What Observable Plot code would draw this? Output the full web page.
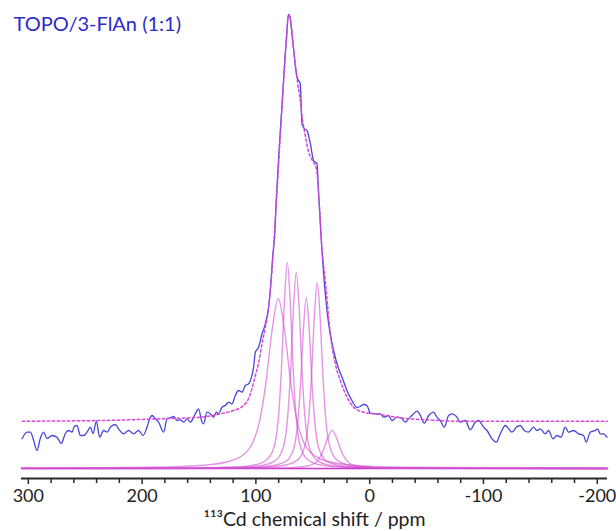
<!DOCTYPE html>
<html><head><meta charset="utf-8">
<script src="https://cdn.jsdelivr.net/npm/d3@7"></script>
<script src="https://cdn.jsdelivr.net/npm/@observablehq/plot@0.6"></script>
<style>body{margin:0;background:#fff}#chart svg{display:block}</style>
</head><body><div id="chart"></div>
<script>
const titleText = "TOPO/3-FlAn (1:1)";
const axisTitle = "¹¹³Cd chemical shift / ppm";
const minorTicks = [280,260,240,220,180,160,140,120,80,60,40,20,-20,-40,-60,-80,-120,-140,-160,-180];
const majorTicks = [300,200,100,0,-100,-200];

// experimental spectrum [ppm, intensity]
const experimental = [
[305.5,6.54],[301.1,8.0],[298.2,8.0],[295.3,6.17],[292.4,3.96],[289.5,6.61],[286.6,8.0],[283.6,6.61],[279.2,7.27],[274.8,6.89],[271.0,5.51],[267.5,7.71],[264.6,8.37],[261.6,8.0],[259.6,9.25],[257.2,9.47],[254.3,7.27],[251.4,7.27],[248.4,8.0],[245.5,9.10],[243.1,7.71],[240.2,10.42],[237.3,6.89],[233.8,8.37],[230.8,8.0],[227.9,9.10],[223.5,9.69],[220.7,8.74],[216.3,7.64],[211.9,8.37],[207.5,7.64],[203.1,8.37],[199.2,7.27],[195.7,9.10],[193.4,10.95],[191.3,11.67],[188.4,10.95],[185.5,10.20],[181.1,8.0],[178.1,10.95],[175.2,11.17],[172.3,11.45],[169.3,10.57],[166.4,10.73],[163.5,10.20],[160.5,10.95],[157.6,10.20],[153.3,12.05],[150.4,13.15],[147.4,10.20],[146.0,9.85],[143.0,12.40],[140.1,12.05],[137.2,11.30],[134.8,12.40],[132.8,12.05],[129.8,13.50],[126.9,13.88],[124.0,14.60],[121.0,14.25],[118.1,16.08],[115.2,17.18],[112.2,16.81],[109.3,18.28],[106.4,18.66],[104.9,19.38],[102.0,22.31],[100.5,25.62],[97.6,26.72],[94.6,29.67],[91.7,31.87],[88.8,35.53],[86.7,41.41],[85.0,47.29],[83.8,50.22],[82.1,59.03],[76.8,81.06],[73.3,94.27],[71.3,100.0],[69.8,99.1],[68.3,95.75],[66.3,90.97],[63.9,86.19],[61.0,84.74],[59.5,75.93],[57.5,74.89],[55.1,74.45],[52.2,71.59],[49.3,67.84],[46.3,67.11],[44.9,60.51],[42.5,50.22],[40.5,42.89],[36.1,31.87],[31.7,25.99],[27.3,21.96],[24.3,20.11],[20.0,17.18],[15.6,14.98],[11.2,13.44],[8.3,13.66],[5.4,14.10],[2.4,13.88],[-0.5,12.22],[-4.9,12.05],[-9.3,12.05],[-12.2,11.30],[-16.6,11.67],[-19.6,10.57],[-24.0,11.30],[-28.4,10.95],[-31.3,10.20],[-34.2,10.95],[-38.6,12.05],[-41.6,12.62],[-44.5,11.67],[-48.0,9.98],[-51.8,11.67],[-56.2,12.40],[-59.1,11.30],[-62.0,10.57],[-65.6,9.10],[-69.3,11.67],[-72.3,12.05],[-76.7,11.30],[-79.6,10.20],[-84.0,10.57],[-88.4,8.52],[-92.8,10.20],[-95.7,10.57],[-100.1,9.10],[-103.1,8.37],[-107.5,6.54],[-111.2,5.79],[-114.8,7.64],[-119.2,9.47],[-122.1,8.74],[-125.0,8.0],[-128.8,9.10],[-132.3,9.47],[-135.9,8.37],[-139.6,8.0],[-144.0,9.10],[-147.0,8.37],[-149.9,8.74],[-154.3,7.64],[-157.2,8.37],[-161.1,6.54],[-164.6,7.27],[-168.1,6.89],[-171.9,9.10],[-174.8,8.0],[-179.2,8.37],[-183.6,7.64],[-188.0,7.27],[-190.3,5.79],[-193.8,8.0],[-198.2,8.37],[-200.3,8.74],[-202.6,7.64],[-205.5,7.64],[-208.5,6.89]
];

// total fit (dashed) [ppm, intensity]
const fit = [
[305.3,10.42],[236.7,10.57],[184.0,10.95],[148.9,11.30],[131.3,12.05],[119.6,12.78],[110.8,13.88],[106.4,15.42],[103.4,17.62],[100.5,20.48],[97.6,23.35],[94.6,27.47],[91.7,31.12],[88.8,35.53],[86.7,40.97],[85.0,46.92],[82.1,58.37],[76.8,80.62],[73.3,94.27],[71.3,100.0],[69.8,99.1],[68.0,95.4],[66.3,90.97],[63.6,85.46],[61.0,81.06],[59.2,77.1],[56.6,73.35],[54.0,70.04],[50.4,67.84],[46.9,66.08],[44.7,60.13],[42.5,50.22],[39.0,41.41],[34.6,29.67],[30.2,23.06],[25.8,19.38],[19.9,15.70],[14.1,13.50],[5.4,12.40],[-9.3,11.89],[-26.9,11.17],[-53.3,10.68],[-77.0,10.42],[-208.8,10.42]
];

// fitted components [ppm, intensity]
const compA = [[306,0.06],[190.3,0.26],[146.3,0.71],[124.3,1.54],[113.3,2.64],[102.3,5.95],[96.8,10.4],[91.3,18.7],[85.8,30.4],[80.3,37.4],[74.8,30.4],[69.3,18.7],[63.8,10.4],[58.3,5.95],[47.3,2.64],[36.3,1.54],[14.3,0.71],[-29.7,0.26],[-209,0.04]];
const compB = [[306,0.02],[172.4,0.07],[122.4,0.27],[102.4,0.74],[92.4,1.6],[87.4,2.77],[82.4,6.6],[79.9,12.2],[77.4,22.7],[74.9,37.0],[72.4,45.4],[69.9,37.0],[67.4,22.7],[64.9,12.2],[62.4,6.6],[57.4,2.77],[52.4,1.6],[42.4,0.74],[22.4,0.27],[-27.6,0.07],[-209,0.01]];
const compC = [[306,0.02],[164.5,0.065],[114.5,0.26],[94.5,0.70],[84.5,1.52],[79.5,2.64],[74.5,6.26],[72,11.6],[69.5,21.6],[67,35.3],[64.5,43.2],[62,35.3],[59.5,21.6],[57,11.6],[54.5,6.26],[49.5,2.64],[44.5,1.52],[34.5,0.70],[14.5,0.26],[-35.5,0.065],[-209,0.01]];
const compD = [[306,0.02],[155.7,0.057],[105.7,0.23],[85.7,0.61],[75.7,1.33],[70.7,2.30],[65.7,5.47],[63.2,10.1],[60.7,18.85],[58.2,30.8],[55.7,37.7],[53.2,30.8],[50.7,18.85],[48.2,10.1],[45.7,5.47],[40.7,2.30],[35.7,1.33],[25.7,0.61],[5.7,0.23],[-44.3,0.057],[-209,0.01]];
const compE = [[306,0.01],[146.1,0.06],[96.1,0.25],[76.1,0.66],[66.1,1.45],[61.1,2.50],[56.1,5.95],[53.6,11.0],[51.1,20.5],[48.6,33.5],[46.1,41.0],[43.6,33.5],[41.1,20.5],[38.6,11.0],[36.1,5.95],[31.1,2.50],[26.1,1.45],[16.1,0.66],[-3.9,0.25],[-53.9,0.06],[-209,0.01]];
const compF = [[306,0.005],[183,0.013],[108,0.05],[78,0.14],[63,0.30],[55.5,0.51],[48,1.22],[44.25,2.26],[40.5,4.2],[36.75,6.85],[33,8.4],[29.25,6.85],[25.5,4.2],[21.75,2.26],[18,1.22],[10.5,0.51],[3,0.30],[-12,0.14],[-42,0.05],[-117,0.013],[-209,0.005]];

const components = [compA, compB, compC, compD, compE, compF];
const Y0 = -2.2026, X0 = 306, X1 = -209;

const compMarks = components.map(c => Plot.line(c, {x: d => d[0], y: d => d[1], curve: "monotone-x", stroke: "#d24fd2", strokeOpacity: 0.6, strokeWidth: 1.4}));

const chart = Plot.plot({
  width: 616, height: 531,
  marginLeft: 21, marginRight: 9, marginTop: 14, marginBottom: 53,
  style: {fontFamily: "Lato, 'Open Sans', sans-serif", background: "#fff"},
  x: {domain: [X0, X1], axis: null, label: null},
  y: {domain: [Y0, 100], axis: null, label: null},
  marks: [
    Plot.ruleY([0], {x1: X0 - 0.8, x2: X1 + 1.5, stroke: "#cc33cc", strokeWidth: 1.6}),
    ...compMarks,
    Plot.line(experimental, {x: d => d[0], y: d => d[1], curve: "monotone-x", stroke: "#4747d9", strokeWidth: 1.3}),
    Plot.line(fit, {x: d => d[0], y: d => d[1], curve: "monotone-x", stroke: "#dc45dc", strokeWidth: 1.5, strokeDasharray: "2.5,2.5"}),
    Plot.ruleY([Y0], {x1: X0, x2: X1, stroke: "#2a2a2a", strokeWidth: 2}),
    Plot.axisX({ticks: minorTicks, tickSize: 5, tickFormat: null, text: null, stroke: "#2a2a2a", strokeWidth: 1.5}),
    Plot.axisX({ticks: majorTicks, tickSize: 6, tickPadding: 4.7, tickFormat: d => String(d), stroke: "#2a2a2a", strokeWidth: 1.5, fontSize: 18, fill: "#1e1e1e"}),
    Plot.text([axisTitle], {text: d => d, frameAnchor: "bottom", dy: 33.7, lineAnchor: "top", fontSize: 19.5, fill: "#1e1e1e"}),
    Plot.text([titleText], {text: d => d, frameAnchor: "top-left", dx: -8, dy: 1.8, lineAnchor: "top", textAnchor: "start", fontSize: 20, fill: "#2b2bc8"})
  ]
});
document.getElementById("chart").appendChild(chart);
</script>
</body></html>
